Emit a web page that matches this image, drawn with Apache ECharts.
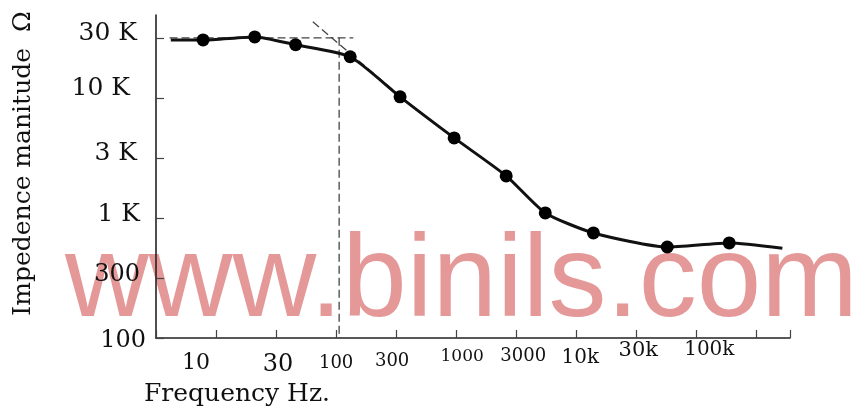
<!DOCTYPE html>
<html><head><meta charset="utf-8">
<script src="https://cdn.jsdelivr.net/npm/echarts@6/dist/echarts.min.js"></script>
<style>html,body{margin:0;padding:0;background:#fff}#c{width:863px;height:410px}</style>
</head><body><div id="c"></div>
<script>
// ---- data ----
const freqHz = [7.8, 21, 46, 131, 341, 962, 2610, 5520, 13900, 57300, 188000];
const impedanceOhm = [30400, 32200, 27700, 22000, 10200, 4640, 2240, 1100, 750, 573, 619];
const curveStart = [4.2, 30400];
const curveEnd = [521000, 560];
const xTickLabels = ['10', '30', '100', '300', '1000', '3000', '10k', '30k', '100k'];
const yTickLabels = ['100', '300', '1 K', '3 K', '10 K', '30 K'];
const flatAsymptote = [[4.1, 31623], [139, 31623]];
const cornerLine = [[106, 31623], [106, 100]];
const slopeAsymptote = [[64, 43000], [500, 7500]];

// ---- styles ----
const FONT = '"DejaVu Serif", "Liberation Serif", serif';
const xRich = {
  t0: { fontSize: 22, padding: [12, 40, 0, 0] },
  t1: { fontSize: 24, padding: [13, 0, 0, 4] },
  t2: { fontSize: 18, padding: [14, 0, 0, 0] },
  t3: { fontSize: 18, padding: [12, 8, 0, 0] },
  t4: { fontSize: 17, padding: [8, 0, 0, 12] },
  t5: { fontSize: 18, padding: [7, 0, 0, 14] },
  t6: { fontSize: 20, padding: [8, 0, 0, 8] },
  t7: { fontSize: 21, padding: [0, 0, 0, 4] },
  t8: { fontSize: 20, padding: [0, 0, 0, 26] }
};
const yRich = {
  t0: { fontSize: 24, padding: [6, 0, 0, 0] },
  t1: { fontSize: 24, padding: [0, 6, 6, 0] },
  t2: { fontSize: 25, padding: [0, 6, 6, 0] },
  t3: { fontSize: 25, padding: [0, 9, 8, 0] },
  t4: { fontSize: 25, padding: [0, 16, 18, 0] },
  t5: { fontSize: 25, padding: [0, 9, 8, 0] }
};
Object.values(xRich).forEach(s => { s.fontFamily = FONT; s.color = '#111'; });
Object.values(yRich).forEach(s => { s.fontFamily = FONT; s.color = '#111'; });

const HALF_DECADE = Math.sqrt(10);
const dots = freqHz.map((f, i) => [f, impedanceOhm[i]]);
const curve = [curveStart].concat(dots, [curveEnd]);
const dashStyle = { color: '#444', width: 1.3, type: [8, 4] };

const chart = echarts.init(document.getElementById('c'), null, { renderer: 'canvas' });
chart.setOption({
  animation: false,
  backgroundColor: '#fff',
  grid: { left: 156, right: 73, top: 15, bottom: 72, containLabel: false, outerBoundsMode: 'none' },
  graphic: [{
    type: 'text', left: 65, top: 226, z: -10, silent: true,
    style: { text: 'www.binils.com', font: '116px "Liberation Sans", Arial, sans-serif', fill: '#e59898' }
  }],
  xAxis: {
    type: 'log', logBase: HALF_DECADE, min: HALF_DECADE, max: 603000, interval: 1,
    name: 'Frequency Hz.', nameLocation: 'middle', nameGap: 44,
    nameTextStyle: { fontFamily: FONT, fontSize: 25, color: '#111', padding: [0, 472, 0, 0] },
    axisLine: { lineStyle: { color: '#222', width: 1.6 } },
    axisTick: { inside: true, length: 8, lineStyle: { color: '#444', width: 1.2 } },
    splitLine: { show: false },
    axisLabel: {
      margin: 2, rich: xRich,
      formatter: v => {
        const i = Math.round(2 * Math.log10(v)) - 2;
        return (i >= 0 && i < xTickLabels.length) ? '{t' + i + '|' + xTickLabels[i] + '}' : '';
      }
    }
  },
  yAxis: {
    type: 'log', logBase: HALF_DECADE, min: 100, max: 49000, interval: 1,
    name: 'Impedence manitude  Ω', nameLocation: 'middle', nameRotate: 90, nameGap: 120,
    nameTextStyle: { fontFamily: FONT, fontSize: 25, color: '#111', padding: [0, 0, 0, 26] },
    axisLine: { lineStyle: { color: '#222', width: 1.6 } },
    axisTick: { inside: true, length: 8, lineStyle: { color: '#444', width: 1.2 } },
    splitLine: { show: false },
    axisLabel: {
      margin: 10, rich: yRich,
      formatter: v => {
        const i = Math.round(2 * Math.log10(v)) - 4;
        return (i >= 0 && i < yTickLabels.length) ? '{t' + i + '|' + yTickLabels[i] + '}' : '';
      }
    }
  },
  series: [
    { type: 'line', data: flatAsymptote, symbol: 'none', lineStyle: dashStyle, z: 3 },
    { type: 'line', data: cornerLine, symbol: 'none', lineStyle: dashStyle, z: 3 },
    { type: 'line', data: slopeAsymptote, symbol: 'none', lineStyle: dashStyle, z: 3 },
    { type: 'line', data: curve, smooth: 0.2, symbol: 'none', lineStyle: { color: '#111', width: 3 }, z: 4 },
    { type: 'scatter', data: dots, symbol: 'circle', symbolSize: 13, itemStyle: { color: '#000', opacity: 1 }, z: 5 }
  ]
});
</script></body></html>
